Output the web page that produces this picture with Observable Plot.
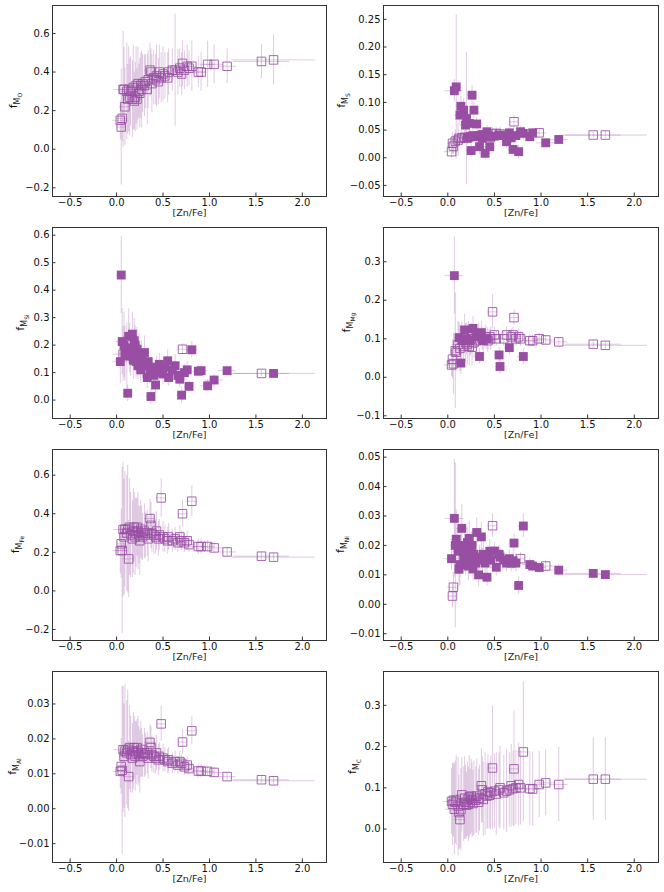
<!DOCTYPE html>
<html lang="en">
<head>
    <meta charset="UTF-8">
    <title>Mass fractions vs [Zn/Fe]</title>
    <script src="https://cdn.jsdelivr.net/npm/d3@7"></script>
    <script src="https://cdn.jsdelivr.net/npm/@observablehq/plot@0.6"></script>
    <style>
        body { margin: 0; background: #fff; }
        #grid { display: grid; grid-template-columns: 332px 332px; width: 664px; }
        #grid svg { display: block; }
    </style>
</head>
<body>
    <div id="grid"></div>

    <script>
    // [Zn/Fe] of each star and its error (same stars in every panel)
    const znfe = [
        0.04,0.05,0.06,0.07,0.08,0.09,0.11,0.12,0.13,0.14,
        0.15,0.17,0.18,0.19,0.20,0.21,0.22,0.23,0.24,0.25,
        0.26,0.27,0.28,0.30,0.31,0.33,0.34,0.36,0.37,0.38,
        0.40,0.42,0.43,0.45,0.46,0.48,0.50,0.52,0.55,0.56,
        0.60,0.63,0.66,0.68,0.70,0.71,0.73,0.76,0.78,0.81,
        0.88,0.91,0.98,1.05,1.19,1.56,1.69];
    const znfeErr = [
        0.08,0.05,0.06,0.10,0.05,0.06,0.06,0.05,0.06,0.05,
        0.06,0.05,0.06,0.05,0.05,0.06,0.05,0.05,0.06,0.05,
        0.05,0.06,0.05,0.05,0.06,0.05,0.05,0.06,0.05,0.05,
        0.06,0.05,0.05,0.06,0.05,0.05,0.05,0.06,0.05,0.05,
        0.06,0.05,0.05,0.06,0.05,0.05,0.06,0.05,0.05,0.06,
        0.08,0.07,0.08,0.10,0.10,0.30,0.45];

    // O
    const fO = [
        0.15,0.115,0.16,0.31,0.31,0.22,0.30,0.26,0.31,0.27,
        0.30,0.26,0.32,0.25,0.27,0.33,0.26,0.34,0.30,0.29,
        0.33,0.31,0.34,0.33,0.35,0.31,0.36,0.41,0.40,0.34,
        0.37,0.36,0.38,0.35,0.40,0.37,0.39,0.38,0.37,0.40,
        0.41,0.41,0.40,0.42,0.39,0.445,0.41,0.43,0.42,0.43,
        0.40,0.40,0.44,0.44,0.43,0.455,0.463];
    const errO = [
        0.10,0.30,0.12,0.30,0.22,0.20,0.25,0.18,0.22,0.20,
        0.18,0.20,0.22,0.15,0.18,0.20,0.16,0.19,0.14,0.18,
        0.17,0.20,0.15,0.16,0.14,0.18,0.15,0.14,0.12,0.15,
        0.14,0.13,0.16,0.12,0.14,0.13,0.14,0.12,0.13,0.12,
        0.11,0.29,0.12,0.10,0.11,0.12,0.10,0.11,0.09,0.13,
        0.08,0.10,0.12,0.10,0.09,0.09,0.13];

    // S
    const fS = [
        0.011,0.026,0.021,0.121,0.030,0.128,0.032,0.035,0.077,0.093,
        0.036,0.086,0.037,0.059,0.071,0.035,0.037,0.062,0.038,0.013,
        0.113,0.040,0.086,0.038,0.061,0.040,0.020,0.041,0.035,0.042,
        0.008,0.047,0.040,0.020,0.037,0.043,0.039,0.044,0.041,0.043,
        0.040,0.029,0.045,0.036,0.015,0.065,0.040,0.011,0.047,0.044,
        0.038,0.045,0.045,0.027,0.033,0.041,0.041];
    const errS = [
        0.012,0.020,0.015,0.020,0.020,0.130,0.030,0.015,0.020,0.018,
        0.015,0.020,0.012,0.015,0.120,0.012,0.010,0.015,0.012,0.012,
        0.018,0.012,0.015,0.010,0.012,0.010,0.012,0.010,0.012,0.010,
        0.012,0.012,0.010,0.015,0.010,0.012,0.010,0.010,0.010,0.012,
        0.010,0.012,0.010,0.012,0.010,0.012,0.010,0.012,0.010,0.012,
        0.008,0.008,0.008,0.008,0.006,0.005,0.006];
    const filledS = [
        0,0,0,1,0,1,0,0,1,1,
        0,1,0,1,1,1,1,1,1,1,
        1,1,1,1,1,1,1,1,1,1,
        1,1,1,1,1,0,1,0,1,0,
        1,1,1,1,1,0,1,1,1,1,
        1,1,0,1,1,0,0];

    // Si
    const fSi = [
        0.14,0.455,0.213,0.167,0.20,0.17,0.16,0.025,0.232,0.19,
        0.167,0.24,0.145,0.216,0.20,0.14,0.185,0.125,0.17,0.15,
        0.11,0.155,0.13,0.173,0.125,0.082,0.14,0.10,0.013,0.115,
        0.09,0.055,0.12,0.10,0.13,0.11,0.095,0.12,0.143,0.082,
        0.11,0.125,0.09,0.076,0.018,0.185,0.10,0.11,0.05,0.183,
        0.105,0.107,0.052,0.073,0.107,0.097,0.097];
    const errSi = [
        0.08,0.14,0.12,0.10,0.12,0.10,0.12,0.03,0.10,0.09,
        0.08,0.08,0.07,0.08,0.07,0.06,0.08,0.05,0.07,0.06,
        0.05,0.06,0.05,0.06,0.05,0.04,0.05,0.04,0.03,0.04,
        0.04,0.03,0.04,0.04,0.04,0.03,0.04,0.03,0.04,0.03,
        0.03,0.04,0.03,0.03,0.03,0.02,0.03,0.03,0.02,0.03,
        0.02,0.02,0.02,0.02,0.015,0.01,0.01];
    const filledSi = [
        1,1,1,0,1,1,1,1,1,1,
        1,1,1,1,1,1,1,1,1,1,
        1,1,1,1,1,1,1,1,1,1,
        1,1,1,1,1,1,1,1,1,1,
        1,1,1,1,1,0,1,1,1,1,
        1,1,1,1,1,0,1];

    // Mg
    const fMg = [
        0.032,0.047,0.035,0.264,0.069,0.065,0.085,0.103,0.075,0.037,
        0.095,0.08,0.123,0.09,0.10,0.085,0.105,0.08,0.095,0.10,
        0.078,0.127,0.09,0.105,0.095,0.11,0.054,0.116,0.10,0.095,
        0.105,0.10,0.095,0.105,0.10,0.17,0.11,0.10,0.058,0.028,
        0.10,0.11,0.077,0.105,0.11,0.155,0.10,0.105,0.10,0.054,
        0.095,0.095,0.10,0.097,0.092,0.086,0.083];
    const errMg = [
        0.03,0.05,0.08,0.10,0.15,0.05,0.06,0.04,0.06,0.03,
        0.05,0.05,0.04,0.05,0.04,0.05,0.04,0.05,0.04,0.04,
        0.05,0.03,0.04,0.03,0.04,0.03,0.02,0.03,0.03,0.03,
        0.03,0.03,0.03,0.02,0.03,0.045,0.02,0.02,0.02,0.02,
        0.02,0.02,0.02,0.02,0.02,0.02,0.02,0.02,0.02,0.02,
        0.015,0.015,0.015,0.012,0.01,0.01,0.01];
    const filledMg = [
        0,0,0,1,0,0,0,1,0,1,
        1,0,1,0,1,0,0,0,1,0,
        0,1,0,1,0,1,1,1,0,1,
        0,1,0,0,0,0,0,0,1,1,
        0,0,1,0,0,0,0,0,0,1,
        0,0,0,0,0,0,0];

    // Fe
    const fFe = [
        0.209,0.244,0.21,0.318,0.28,0.32,0.30,0.32,0.166,0.33,
        0.29,0.27,0.31,0.33,0.28,0.30,0.33,0.31,0.29,0.26,
        0.32,0.30,0.28,0.31,0.29,0.30,0.27,0.375,0.34,0.30,
        0.29,0.28,0.31,0.27,0.29,0.482,0.28,0.27,0.26,0.28,
        0.26,0.27,0.25,0.28,0.26,0.40,0.25,0.26,0.24,0.465,
        0.23,0.23,0.23,0.223,0.202,0.18,0.175];
    const errFe = [
        0.12,0.18,0.43,0.35,0.30,0.30,0.30,0.33,0.20,0.25,
        0.22,0.20,0.22,0.18,0.20,0.18,0.15,0.20,0.15,0.18,
        0.15,0.14,0.12,0.14,0.12,0.12,0.12,0.10,0.12,0.10,
        0.10,0.09,0.10,0.09,0.08,0.10,0.08,0.07,0.07,0.07,
        0.06,0.06,0.05,0.06,0.05,0.07,0.05,0.05,0.04,0.08,
        0.04,0.04,0.03,0.03,0.025,0.02,0.02];

    // Ni
    const fNi = [
        0.0155,0.0028,0.0058,0.0292,0.0200,0.0221,0.018,0.0119,0.0135,0.020,
        0.0258,0.016,0.019,0.0148,0.017,0.021,0.013,0.0224,0.018,0.0155,
        0.020,0.012,0.017,0.014,0.0244,0.010,0.016,0.0229,0.015,0.017,
        0.014,0.0092,0.016,0.018,0.015,0.0267,0.0181,0.0126,0.017,0.016,
        0.015,0.014,0.0155,0.014,0.0148,0.0208,0.014,0.0064,0.0155,0.0266,
        0.0135,0.013,0.0125,0.013,0.0116,0.0105,0.0101];
    const errNi = [
        0.004,0.004,0.005,0.020,0.028,0.010,0.008,0.006,0.007,0.006,
        0.008,0.005,0.006,0.005,0.006,0.005,0.005,0.006,0.004,0.005,
        0.005,0.004,0.004,0.004,0.005,0.004,0.004,0.005,0.004,0.004,
        0.004,0.003,0.004,0.004,0.003,0.004,0.003,0.003,0.003,0.003,
        0.003,0.003,0.003,0.003,0.003,0.003,0.003,0.003,0.002,0.004,
        0.002,0.002,0.002,0.002,0.002,0.001,0.001];
    const filledNi = [
        1,0,0,1,1,1,1,1,1,1,
        1,1,1,1,1,1,1,1,1,1,
        1,1,1,1,1,1,1,1,1,1,
        1,1,1,1,1,0,1,1,1,1,
        1,1,1,1,1,1,1,1,0,1,
        1,1,1,0,1,1,1];

    // Al
    const fAl = [
        0.0107,0.0121,0.0110,0.0169,0.0150,0.0165,0.0160,0.0170,0.0092,0.0175,
        0.0155,0.0145,0.0165,0.0175,0.0150,0.0160,0.0175,0.0165,0.0155,0.0135,
        0.0170,0.0160,0.0150,0.0160,0.0155,0.0160,0.0145,0.0190,0.0175,0.0155,
        0.0150,0.0145,0.0160,0.0140,0.0150,0.0243,0.0145,0.0140,0.0135,0.0140,
        0.0130,0.0135,0.0125,0.0135,0.0130,0.0191,0.0120,0.0125,0.0115,0.0223,
        0.0108,0.0108,0.0107,0.0104,0.0092,0.0083,0.0080];
    const errAl = [
        0.005,0.008,0.024,0.018,0.015,0.019,0.015,0.017,0.010,0.012,
        0.011,0.010,0.011,0.009,0.010,0.009,0.008,0.010,0.008,0.009,
        0.008,0.007,0.006,0.007,0.006,0.006,0.006,0.005,0.006,0.005,
        0.005,0.0045,0.005,0.0045,0.004,0.005,0.004,0.0035,0.0035,0.0035,
        0.003,0.003,0.0025,0.003,0.0025,0.0035,0.0025,0.0025,0.002,0.004,
        0.002,0.002,0.0015,0.0015,0.0012,0.001,0.001];

    // C
    const fC = [
        0.067,0.060,0.070,0.048,0.065,0.070,0.055,0.040,0.023,0.047,
        0.083,0.060,0.075,0.065,0.058,0.072,0.060,0.078,0.065,0.080,
        0.070,0.062,0.075,0.070,0.080,0.065,0.075,0.105,0.095,0.072,
        0.085,0.080,0.090,0.082,0.088,0.148,0.092,0.085,0.095,0.100,
        0.088,0.092,0.095,0.105,0.098,0.146,0.100,0.108,0.100,0.187,
        0.098,0.097,0.108,0.112,0.108,0.121,0.121];
    const errC = [
        0.08,0.10,0.09,0.11,0.10,0.11,0.12,0.09,0.07,0.10,
        0.09,0.09,0.10,0.09,0.08,0.09,0.09,0.10,0.08,0.09,
        0.09,0.08,0.09,0.08,0.09,0.08,0.08,0.09,0.08,0.09,
        0.10,0.08,0.09,0.08,0.09,0.15,0.09,0.10,0.09,0.10,
        0.09,0.10,0.09,0.10,0.09,0.14,0.09,0.10,0.09,0.17,
        0.09,0.09,0.08,0.08,0.09,0.10,0.10];

    const xTicks = [-0.5, 0, 0.5, 1.0, 1.5, 2.0];

    const panels = [
        {sub: "O",  y: fO,  err: errO,  filled: null,     domain: [-0.245, 0.745],   ticks: [-0.2, 0, 0.2, 0.4, 0.6], fmt: ".1f", labelX: 17},
        {sub: "S",  y: fS,  err: errS,  filled: filledS,  domain: [-0.070, 0.275],   ticks: [-0.05, 0, 0.05, 0.10, 0.15, 0.20, 0.25], fmt: ".2f", labelX: 13},
        {sub: "Si", y: fSi, err: errSi, filled: filledSi, domain: [-0.067, 0.628],   ticks: [0, 0.1, 0.2, 0.3, 0.4, 0.5, 0.6], fmt: ".1f", labelX: 24},
        {sub: "Mg", y: fMg, err: errMg, filled: filledMg, domain: [-0.107, 0.389],   ticks: [-0.1, 0, 0.1, 0.2, 0.3], fmt: ".1f", labelX: 18},
        {sub: "Fe", y: fFe, err: errFe, filled: null,     domain: [-0.257, 0.733],   ticks: [-0.2, 0, 0.2, 0.4, 0.6], fmt: ".1f", labelX: 19},
        {sub: "Ni", y: fNi, err: errNi, filled: filledNi, domain: [-0.0123, 0.0526], ticks: [-0.01, 0, 0.01, 0.02, 0.03, 0.04, 0.05], fmt: ".2f", labelX: 12},
        {sub: "Al", y: fAl, err: errAl, filled: null,     domain: [-0.0154, 0.0393], ticks: [-0.01, 0, 0.01, 0.02, 0.03], fmt: ".2f", labelX: 16},
        {sub: "C",  y: fC,  err: errC,  filled: null,     domain: [-0.081, 0.382],   ticks: [0, 0.1, 0.2, 0.3], fmt: ".1f", labelX: 24}
    ];

    const purple = "#984ea3";
    const W = 332, H = 222, mTop = 5, mBottom = 26, mRight = 6;
    const grid = document.querySelector("#grid");

    panels.forEach((p, k) => {
        const mLeft = k % 2 === 0 ? 52 : 51;
        const innerW = W - mLeft - mRight;
        const innerH = H - mTop - mBottom;

        const rows = znfe.map((x, i) => ({
            x, xe: znfeErr[i], y: p.y[i], ye: p.err[i],
            filled: p.filled ? p.filled[i] : 0
        }));

        const chart = Plot.plot({
            width: W,
            height: H,
            marginTop: mTop,
            marginBottom: mBottom,
            marginLeft: mLeft,
            marginRight: mRight,
            style: {fontFamily: "'DejaVu Sans', sans-serif", fontSize: "10px", color: "#111", background: "#fff"},
            x: {domain: [-0.69, 2.26]},
            y: {domain: p.domain},
            marks: [
                // error bars
                Plot.ruleX(rows, {x: "x", y1: d => d.y - d.ye, y2: d => d.y + d.ye, stroke: purple, strokeOpacity: 0.3, clip: true}),
                Plot.ruleY(rows, {y: "y", x1: d => d.x - d.xe, x2: d => d.x + d.xe, stroke: purple, strokeOpacity: 0.3, clip: true}),
                // open and filled squares
                Plot.dot(rows.filter(d => !d.filled), {x: "x", y: "y", symbol: "square", r: 4.8, fill: "none", stroke: purple, strokeOpacity: 0.85, strokeWidth: 1}),
                Plot.dot(rows.filter(d => d.filled), {x: "x", y: "y", symbol: "square", r: 5, fill: purple, stroke: "none"}),
                // inward ticks
                Plot.ruleX(xTicks, {insetTop: innerH - 3.5, stroke: "#333"}),
                Plot.ruleY(p.ticks, {insetRight: innerW - 3.5, stroke: "#333"}),
                Plot.axisX(xTicks, {tickSize: 0, tickPadding: 2, tickFormat: ".1f", label: null}),
                Plot.axisY(p.ticks, {tickSize: 0, tickPadding: 3, tickFormat: p.fmt, label: null}),
                Plot.text(["[Zn/Fe]"], {frameAnchor: "bottom", dy: 19, fontSize: 9.5, fill: "#222"}),
                Plot.frame({stroke: "#333"})
            ]
        });

        // y label f with subscript M_el
        const lab = d3.select(chart).append("text")
            .attr("transform", `translate(${p.labelX},${mTop + innerH / 2}) rotate(-90)`)
            .attr("text-anchor", "middle")
            .attr("font-family", "'DejaVu Sans', sans-serif")
            .attr("fill", "#111");
        lab.append("tspan").attr("font-size", 11).text("f");
        lab.append("tspan").attr("font-size", 8).attr("dy", 3).text("M");
        lab.append("tspan").attr("font-size", 6).attr("dy", 1.5).text(p.sub);

        grid.append(chart);
    });
    </script>
</body>
</html>
